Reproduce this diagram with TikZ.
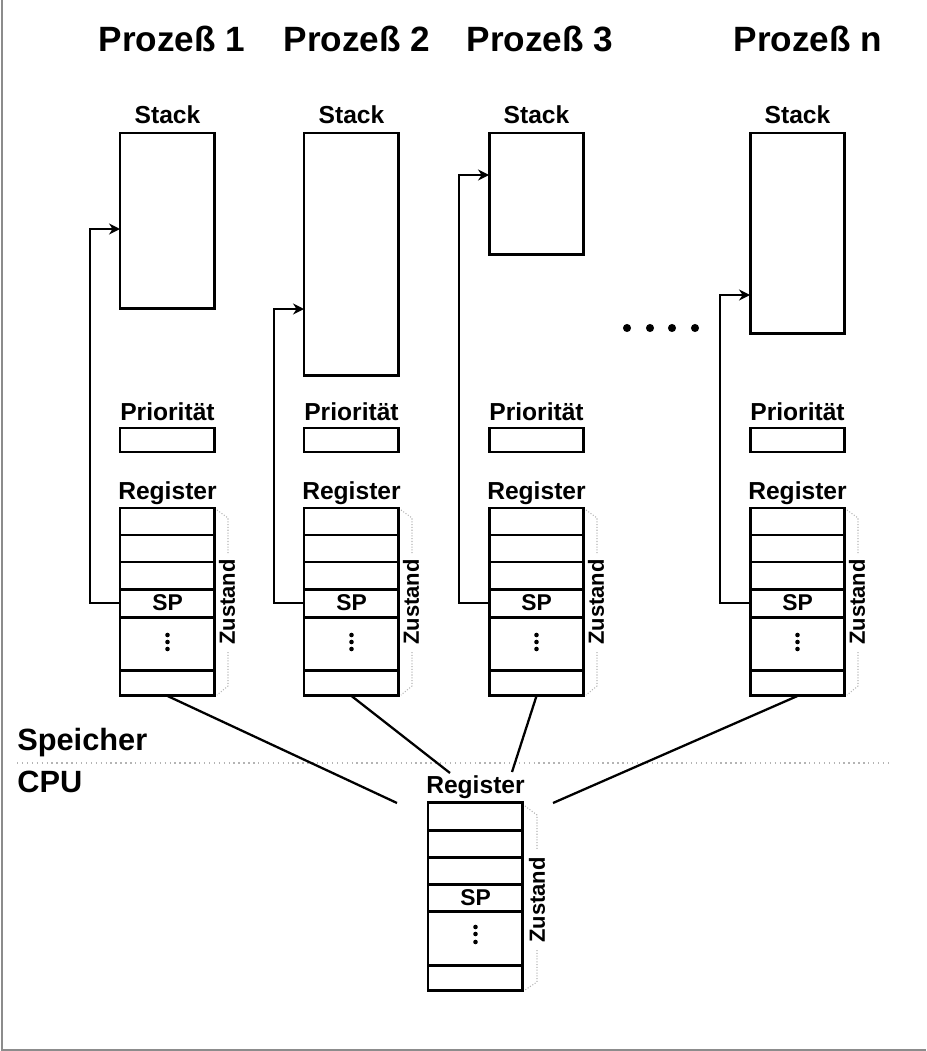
\documentclass[tikz,border=0pt]{standalone}
\usepackage{fontspec}
\setmainfont{Liberation Sans}
\usepackage{xcolor}
\usetikzlibrary{arrows.meta,positioning,calc}
\definecolor{framegray}{HTML}{8C8C8C}
\definecolor{dotgray}{HTML}{B4B4B4}
\tikzset{
  box/.style={draw, line width=1.7pt, minimum width=1.9cm, inner sep=0pt, outer sep=0pt},
  lbl/.style={font=\fontsize{14}{16}\selectfont\bfseries, inner sep=0pt},
  ttl/.style={font=\fontsize{20}{24}\selectfont\bfseries, inner sep=0pt},
  sec/.style={font=\fontsize{17.5}{20}\selectfont\bfseries, inner sep=0pt},
  fl/.style={-{Stealth[length=2.2mm, width=2.2mm]}, line width=1.3pt},
  conn/.style={line width=1.3pt},
  brc/.style={draw=dotgray, densely dotted, line width=0.6pt},
}

\begin{document}
\begin{tikzpicture}[x=0.02cm, y=-0.02cm]
  \useasboundingbox (0,0) rectangle (926,1051);
  \draw[framegray, line width=0.8pt] (2,0) -- (2,1050) -- (926,1050);
  % process titles
  \foreach \n/\tx in {1/172,2/357,3/540,n/808}
    \node[ttl, anchor=base] (pz\n) at (\tx,52) {Prozeß \n};
  % one column per process
  \foreach \n/\x/\h/\ay in {1/120/3.52/229, 2/304/4.86/309, 3/489/2.44/175, n/750/4.02/295}{
    \node[box, anchor=north west, minimum height=\h cm] (st\n) at (\x,133) {};
    \node[lbl, anchor=base] (sl\n) at ($(st\n.north)+(0,-9)$) {Stack};
    \node[box, anchor=north west, minimum height=0.48cm] (pr\n) at (\x,428) {};
    \node[lbl, anchor=base] (pl\n) at ($(pr\n.north)+(0,-8)$) {Priorität};
    \node[box, anchor=north west, minimum height=3.76cm] (rg\n) at (\x,508) {};
    \node[lbl, anchor=base] (rl\n) at ($(rg\n.north)+(0,-9)$) {Register};
    \foreach \yy in {535,562,589,617,670}\draw[line width=1.7pt] (\x,\yy) -- ++(95,0);
    \node[lbl, font=\fontsize{13}{15}\selectfont\bfseries, minimum width=1.9cm, minimum height=0.56cm] (sp\n) at (\x+47.5,603) {SP};
    \foreach \d in {635,642,649}\fill (\x+47.5,\d) circle (1.3pt);
    \node[lbl, font=\fontsize{12.5}{15}\selectfont\bfseries, rotate=90] (zs\n) at (\x+107,602) {Zustand};
    \draw[brc] (\x+97,510) -- (\x+108,518) -- (\x+108,553);
    \draw[brc] (\x+108,652) -- (\x+108,686) -- (\x+97,695);
    \coordinate (in\n) at (\x,\ay);
    \draw[fl] (sp\n.west) -- ++(-30,0) |- (in\n);
  }
  \foreach \d in {627,650,672,695}\fill (\d,328) circle (2.3pt);
  % memory / cpu split
  \node[sec, anchor=base west] (mem) at (17,750) {Speicher};
  \node[sec, anchor=base west] (cpul) at (17,792) {CPU};
  \draw[dotgray, dotted, line width=0.8pt] (17,763) -- (892,763);
  % cpu register set
  \node[box, anchor=north west, minimum height=3.78cm] (cpu) at (428,802) {};
  \node[lbl, anchor=base] (cl) at ($(cpu.north)+(0,-9)$) {Register};
  \foreach \yy in {830,857,884,911,965}\draw[line width=1.7pt] (428,\yy) -- ++(95,0);
  \node[lbl, font=\fontsize{13}{15}\selectfont\bfseries, minimum width=1.9cm, minimum height=0.54cm] (csp) at (475.5,897.5) {SP};
  \foreach \d in {927,934,942}\fill (475.5,\d) circle (1.3pt);
  \node[lbl, font=\fontsize{12.5}{15}\selectfont\bfseries, rotate=90] (czs) at (537,900) {Zustand};
  \draw[brc] (525,806) -- (537,815) -- (537,850);
  \draw[brc] (537,950) -- (537,982) -- (525,990);
  % process registers to cpu
  \coordinate (c1) at (397,803);
  \coordinate (c2) at (450,773);
  \coordinate (c3) at (512,772);
  \coordinate (cn) at (553,803);
  \foreach \n in {1,2,3,n}\draw[conn] (rg\n.south) -- (c\n);
\end{tikzpicture}
\end{document}
